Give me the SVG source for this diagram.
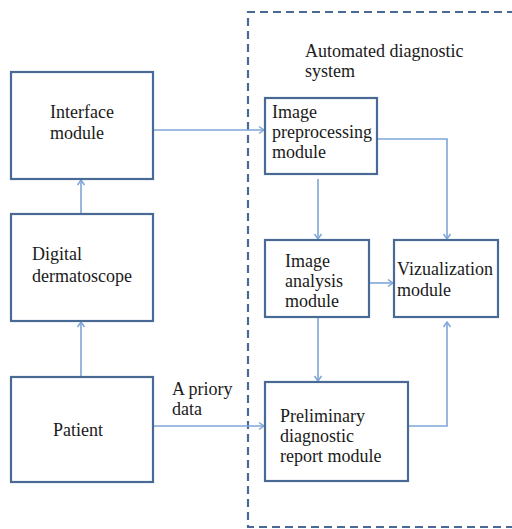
<svg xmlns="http://www.w3.org/2000/svg" width="512" height="529" viewBox="0 0 512 529">
<style>
.box{fill:#fff;stroke:#4a6a96;stroke-width:2.2}
.t{font-family:"Liberation Serif","Times New Roman",serif;font-size:18px;fill:#1a1a1a}
.c{fill:none;stroke:#7ea6d8;stroke-width:1.6}
.frame{fill:none;stroke:#4a6a96;stroke-width:2.2;stroke-dasharray:8 5}
</style>
<defs>
<marker id="ah" markerWidth="10" markerHeight="10" refX="8" refY="5" orient="auto" markerUnits="userSpaceOnUse">
<polyline points="3,1.5 8,5 3,8.5" fill="none" stroke="#7ea6d8" stroke-width="1.5"/>
</marker>
</defs>
<path class="frame" d="M515,12 H248 V527 H515"/>
<text class="t" x="305" y="57">Automated diagnostic</text>
<text class="t" x="305" y="77">system</text>
<g id="connectors">
<line class="c" x1="153" y1="130" x2="264" y2="130" marker-end="url(#ah)"/>
<line class="c" x1="81" y1="214" x2="81" y2="180" marker-end="url(#ah)"/>
<line class="c" x1="81" y1="377" x2="81" y2="322" marker-end="url(#ah)"/>
<polyline class="c" points="377,139 447,139 447,239" marker-end="url(#ah)"/>
<line class="c" x1="318" y1="179" x2="318" y2="239" marker-end="url(#ah)"/>
<line class="c" x1="369" y1="283" x2="393" y2="283" marker-end="url(#ah)"/>
<line class="c" x1="318" y1="317" x2="318" y2="381" marker-end="url(#ah)"/>
<polyline class="c" points="408,426 447,426 447,322" marker-end="url(#ah)"/>
<line class="c" x1="153" y1="426" x2="264" y2="426" marker-end="url(#ah)"/>
</g>
<text class="t" x="172" y="395">A priory</text>
<text class="t" x="172" y="415">data</text>
<g id="interface">
<rect class="box" x="11" y="72" width="142" height="107"/>
<text class="t" x="50" y="118">Interface</text>
<text class="t" x="50" y="139">module</text>
</g>
<g id="dermatoscope">
<rect class="box" x="11" y="214" width="142" height="107"/>
<text class="t" x="32" y="260">Digital</text>
<text class="t" x="32" y="282">dermatoscope</text>
</g>
<g id="patient">
<rect class="box" x="11" y="377" width="142" height="105"/>
<text class="t" x="53" y="436">Patient</text>
</g>
<g id="preprocessing">
<rect class="box" x="265" y="98" width="112" height="76"/>
<text class="t" x="272" y="118">Image</text>
<text class="t" x="272" y="138">preprocessing</text>
<text class="t" x="272" y="158">module</text>
</g>
<g id="analysis">
<rect class="box" x="265" y="240" width="104" height="77"/>
<text class="t" x="285" y="267">Image</text>
<text class="t" x="285" y="287">analysis</text>
<text class="t" x="285" y="307">module</text>
</g>
<g id="visualization">
<rect class="box" x="394" y="240" width="104" height="77"/>
<text class="t" x="397" y="275">Vizualization</text>
<text class="t" x="397" y="296">module</text>
</g>
<g id="report">
<rect class="box" x="265" y="382" width="143" height="99"/>
<text class="t" x="280" y="422">Preliminary</text>
<text class="t" x="280" y="442">diagnostic</text>
<text class="t" x="280" y="462">report module</text>
</g>
</svg>
